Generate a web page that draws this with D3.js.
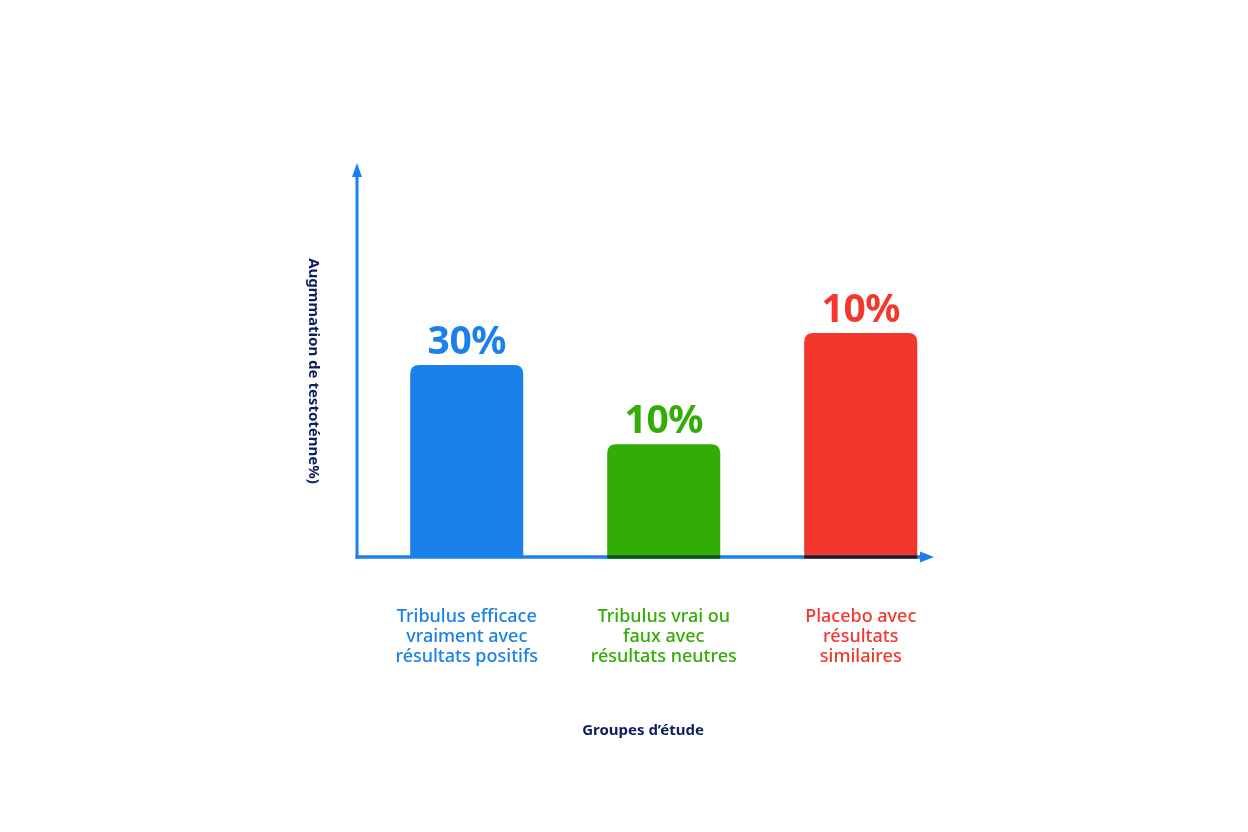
<!DOCTYPE html>
<html>
<head>
<meta charset="utf-8">
<script src="https://cdn.jsdelivr.net/npm/d3@7"></script>
<style>
  html, body { margin: 0; padding: 0; background: #fff; }
  svg { display: block; }
  text { font-family: "Noto Sans", "Open Sans", sans-serif; }
</style>
</head>
<body>
<svg id="chart" width="1248" height="832"></svg>
<script>
/* groups, bar heights (as drawn), and the value labels printed on top */
const categories = ["pos", "neu", "pla"];
const barValues  = [30, 17.6, 35];
const valueLabels = ["30%", "10%", "10%"];
const groupLines = [
  ["Tribulus efficace", "vraiment avec", "résultats positifs"],
  ["Tribulus vrai ou", "faux avec", "résultats neutres"],
  ["Placebo avec", "résultats", "similaires"]
];
const colors = ["#1a80ea", "#33ac05", "#f4372c"];
const yTitle = "Augmmation de testoténne%)";
const xTitle = "Groupes d’étude";

const svg = d3.select("#chart");
const axisColor = "#1a80ea";
const navy = "#0e1f5e";

const x0 = 357, yBase = 557, yTop = 165;

const x = d3.scaleBand()
  .domain(categories)
  .range([x0, x0 + 197 * (3 - 0.426 + 2 * 0.27)])
  .paddingInner(0.426)
  .paddingOuter(0.27);

const y = d3.scaleLinear()
  .domain([0, 61.25])
  .range([yBase, yTop]);

/* -- bars with rounded top ------------------------------------------- */
function barPath(left, top, w, bottom, r) {
  return `M${left},${bottom} V${top + r} Q${left},${top} ${left + r},${top}` +
         ` H${left + w - r} Q${left + w},${top} ${left + w},${top + r} V${bottom} Z`;
}

// y axis with arrow
svg.append("line")
  .attr("x1", x0).attr("x2", x0)
  .attr("y1", yBase + 1.5).attr("y2", yTop + 4)
  .attr("stroke", axisColor).attr("stroke-width", 3);
svg.append("path")
  .attr("d", `M${x0 - 5},${yTop + 12} L${x0},${yTop - 2} L${x0 + 5},${yTop + 12} Z`)
  .attr("fill", axisColor);

const bars = svg.append("g");
bars.selectAll("path")
  .data(categories)
  .join("path")
    .attr("d", (d, i) => barPath(x(d), y(barValues[i]), x.bandwidth(), yBase + 1, 9))
    .attr("fill", (d, i) => colors[i]);

// x axis line, then a darker strip where it crosses green / red bars
svg.append("line")
  .attr("x1", x0 - 1.5).attr("x2", 924)
  .attr("y1", yBase).attr("y2", yBase)
  .attr("stroke", axisColor).attr("stroke-width", 3.5);
svg.append("g").selectAll("rect")
  .data(categories.filter((d, i) => colors[i] !== axisColor))
  .join("rect")
    .attr("x", d => x(d))
    .attr("width", x.bandwidth())
    .attr("y", yBase - 1.75)
    .attr("height", 3.5)
    .attr("fill", d => colors[categories.indexOf(d)])
    .style("mix-blend-mode", "multiply");
svg.append("path")
  .attr("d", `M920,${yBase - 5.5} L934,${yBase} L920,${yBase + 5.5} Z`)
  .attr("fill", axisColor);

/* -- value labels ----------------------------------------------------- */
svg.append("g").selectAll("text")
  .data(categories)
  .join("text")
    .attr("x", d => x(d) + x.bandwidth() / 2)
    .attr("y", (d, i) => y(barValues[i]) - 11)
    .attr("text-anchor", "middle")
    .attr("font-size", 39)
    .attr("font-weight", 700)
    .attr("letter-spacing", -0.5)
    .attr("fill", (d, i) => colors[i])
    .text((d, i) => valueLabels[i]);

/* -- category labels, one text per line ------------------------------- */
categories.forEach((c, i) => {
  svg.append("g").selectAll("text")
    .data(groupLines[i])
    .join("text")
      .attr("x", x(c) + x.bandwidth() / 2)
      .attr("y", (d, j) => 622 + j * 20)
      .attr("text-anchor", "middle")
      .attr("font-size", 18)
      .attr("font-weight", 500)
      .attr("fill", colors[i])
      .text(d => d);
});

/* -- axis titles ------------------------------------------------------ */
svg.append("text")
  .attr("transform", `translate(309,371) rotate(90)`)
  .attr("text-anchor", "middle")
  .attr("font-size", 15)
  .attr("font-weight", 700)
  .attr("fill", navy)
  .text(yTitle);

svg.append("text")
  .attr("x", 643).attr("y", 735)
  .attr("text-anchor", "middle")
  .attr("font-size", 15)
  .attr("font-weight", 700)
  .attr("fill", navy)
  .text(xTitle);
</script>
</body>
</html>
